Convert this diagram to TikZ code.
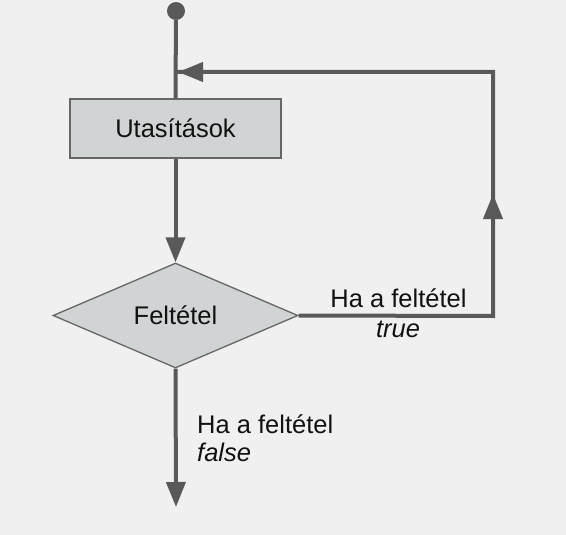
\documentclass[tikz,border=0pt]{standalone}
\usepackage{fontspec}
\setmainfont{Liberation Sans}
\usetikzlibrary{arrows.meta,shapes.geometric}
\definecolor{bg}{HTML}{F0F0F0}
\definecolor{ln}{HTML}{595959}
\definecolor{fl}{HTML}{D0D4D4}
\definecolor{bd}{HTML}{666666}
\definecolor{tx}{HTML}{111111}
\tikzset{
  conn/.style={draw=ln, line width=4pt},
  arr/.style={conn, -{Triangle[length=25pt,width=19pt]}},
  procbox/.style={rectangle, draw=bd, line width=1.3pt, fill=fl, minimum width=211pt, minimum height=59pt, inner sep=0pt, text=tx},
  decbox/.style={diamond, draw=bd, line width=1.3pt, fill=fl, minimum width=245pt, minimum height=105pt, inner sep=0pt, text=tx},
  lbl/.style={text=tx, inner sep=0pt},
  every node/.style={font=\fontsize{25.5}{28}\selectfont}
}
\begin{document}
\begin{tikzpicture}[x=1pt,y=-1pt]
\fill[bg] (0,0) rectangle (566,535);
\useasboundingbox (0,0) rectangle (566,535);
\node[circle, fill=ln, minimum size=18pt, inner sep=0pt] (start) at (176,11) {};
\node[procbox] (box) at (175.5,128.5) {Utasítások};
\node[decbox] (dec) at (175.5,315.5) {Feltétel};
\coordinate (rt) at (493,316);
\coordinate (rmid) at (493,194);
\coordinate (rtop) at (493,72);
\coordinate (join) at (178,72);
\coordinate (endp) at (176,507);
\draw[conn] (start) -- (box.north);
\draw[arr] (box.south) -- (dec.north);
\draw[conn] (dec.east) -- (rt) -- (rtop) -- ([xshift=-2pt]join);
\draw[arr] (rtop) -- (join);
\draw[arr] (rt) -- (rmid);
\draw[arr] (dec.south) -- (endp);
\node[lbl, anchor=base] (lt1) at (398.5,307) {Ha a feltétel};
\node[lbl, anchor=base] (lt2) at (398,337) {\itshape true};
\node[lbl, anchor=base west, align=left] (lf) at (197,461) {Ha a feltétel\\\itshape false};
\end{tikzpicture}
\end{document}
